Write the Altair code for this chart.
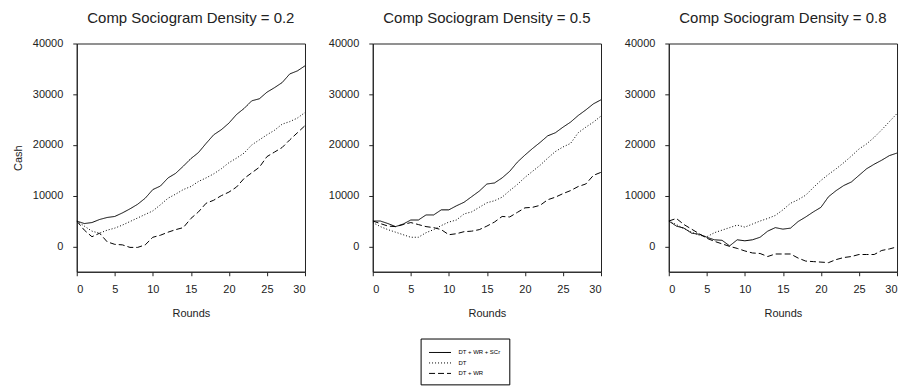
import altair as alt
import pandas as pd

rounds = list(range(31))
series_names = ["DT + WR + SCr", "DT", "DT + WR"]
panel_titles = ["Comp Sociogram Density = 0.2", "Comp Sociogram Density = 0.5", "Comp Sociogram Density = 0.8"]

# Density 0.2
p1_dtwrscr = [5000, 4500, 4700, 5300, 5700, 5900, 6600, 7400, 8300, 9500, 11200, 11900, 13500, 14400, 15800,
              17300, 18500, 20300, 22000, 23000, 24300, 26000, 27200, 28700, 29100, 30400, 31300, 32300, 34000, 34600, 35600]
p1_dt = [5000, 4000, 3000, 2600, 3200, 3600, 4200, 4900, 5600, 6300, 7000, 8200, 9500, 10300, 11200,
         11800, 12800, 13500, 14300, 15300, 16500, 17400, 18400, 20000, 21000, 22000, 22900, 24100, 24600, 25300, 26400]
p1_dtwr = [5000, 3200, 1900, 2600, 900, 400, 300, -200, -200, 300, 1800, 2200, 2800, 3300, 3700,
           5500, 6800, 8500, 9100, 10000, 10700, 11700, 13400, 14500, 15600, 17700, 18600, 19500, 21000, 22400, 23800]

# Density 0.5
p2_dtwrscr = [5000, 5000, 4500, 3900, 4400, 5200, 5200, 6200, 6200, 7200, 7200, 8000, 8700, 9800, 10900,
              12300, 12500, 13500, 14800, 16600, 18000, 19300, 20500, 21800, 22400, 23500, 24500, 25800, 26900, 28100, 28900]
p2_dt = [4700, 3900, 3300, 2800, 2300, 1800, 1800, 2700, 3300, 4100, 4800, 5200, 6400, 6800, 7700,
         8600, 9000, 9700, 11000, 12200, 13600, 14800, 16000, 17400, 18700, 19600, 20300, 22400, 23500, 24500, 25700]
p2_dtwr = [5000, 4500, 4000, 3900, 4300, 4700, 4300, 3900, 3700, 3300, 2300, 2500, 2900, 3000, 3300,
           4000, 4800, 5900, 5800, 6700, 7600, 7700, 8100, 9200, 9700, 10400, 11000, 11800, 12300, 14000, 14600]

# Density 0.8
p3_dtwrscr = [5000, 4000, 3600, 2600, 2400, 1800, 1300, 1200, 100, 1300, 1100, 1300, 1800, 3000, 3700,
              3400, 3600, 4900, 5800, 6800, 7700, 9800, 11000, 12000, 12700, 14000, 15300, 16200, 17000, 17900, 18400]
p3_dt = [5000, 4300, 3500, 2800, 2200, 1900, 2700, 3200, 3700, 4200, 3800, 4400, 5000, 5500, 6100,
         7200, 8500, 9200, 10100, 11600, 13000, 14200, 15300, 16500, 17800, 19200, 20200, 21500, 23000, 24600, 26200]
p3_dtwr = [5000, 5500, 4300, 3400, 2500, 1600, 1000, 500, 0, -400, -900, -1300, -1400, -2000, -1500,
           -1500, -1500, -2300, -2900, -3000, -3100, -3200, -2600, -2200, -2000, -1600, -1600, -1600, -800, -500, -100]

panel_data = [
    [p1_dtwrscr, p1_dt, p1_dtwr],
    [p2_dtwrscr, p2_dt, p2_dtwr],
    [p3_dtwrscr, p3_dt, p3_dtwr],
]

FONT = "Liberation Sans"
dash_scale = alt.Scale(domain=series_names, range=[[1, 0], [1, 2], [6, 3]])
y_ticks = [0, 10000, 20000, 30000, 40000]
x_ticks = [0, 5, 10, 15, 20, 25, 30]


def make_panel(i):
    rows = []
    for name, vals in zip(series_names, panel_data[i]):
        for r, v in zip(rounds, vals):
            rows.append({"Rounds": r, "Cash": v, "Series": name})
    df = pd.DataFrame(rows)
    if i == 0:
        y_axis = alt.Axis(values=y_ticks, format="d", grid=False, titlePadding=9, labelPadding=10)
        y_title = "Cash"
    else:
        y_axis = alt.Axis(values=y_ticks, format="d", grid=False, title=None, labelPadding=10)
        y_title = None
    y_enc = alt.Y("Cash:Q", scale=alt.Scale(domain=[-5000, 40000], nice=False), axis=y_axis)
    if y_title:
        y_enc = y_enc.title(y_title)
    ch = alt.Chart(df, title=alt.TitleParams(panel_titles[i])).mark_line(
        color="black", strokeWidth=1, clip=True
    ).encode(
        x=alt.X("Rounds:Q", scale=alt.Scale(domain=[0, 30], nice=False),
                axis=alt.Axis(values=x_ticks, grid=False, labelPadding=8, titlePadding=13)),
        y=y_enc,
        strokeDash=alt.StrokeDash("Series:N", scale=dash_scale, sort=series_names,
                                  legend=alt.Legend(title=None, orient="none", legendX=345, legendY=296,
                                                    direction="vertical", symbolType="M-1,0H3",
                                                    symbolSize=121, symbolStrokeWidth=1,
                                                    symbolStrokeColor="black",
                                                    strokeColor="black", fillColor="white",
                                                    padding=8, rowPadding=1.5, labelOffset=18,
                                                    labelFontSize=6, labelFont=FONT,
                                                    labelColor="black")),
        detail="Series:N",
    ).properties(width=229, height=229)
    return ch


chart = alt.hconcat(make_panel(0), make_panel(1), make_panel(2), spacing=21).configure(
    font=FONT,
    padding={"left": 11, "top": 9, "right": 5, "bottom": 5},
).configure_view(
    stroke="#222", strokeWidth=1
).configure_axis(
    labelFont=FONT, titleFont=FONT, labelFontSize=11, titleFontSize=11,
    labelColor="#222", titleColor="#222", titleFontWeight="normal",
    domainColor="#222", tickColor="#222", tickSize=4,
).configure_title(
    font=FONT, fontSize=15, fontWeight="normal", color="#222", offset=12, anchor="middle"
)

chart.save("out.html", embed_options={"renderer": "svg", "actions": False})
